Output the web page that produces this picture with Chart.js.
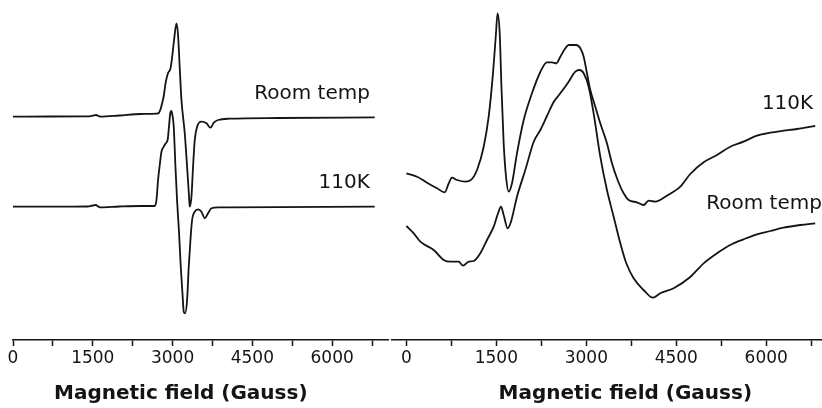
<!DOCTYPE html>
<html>
<head>
<meta charset="utf-8">
<title>EPR spectra</title>
<script src="https://cdn.jsdelivr.net/npm/chart.js"></script>
<style>
  html, body { margin: 0; padding: 0; background: #fff; }
  #wrap { position: relative; width: 822px; height: 408px; overflow: hidden; }
  #wrap canvas { position: absolute; top: 0; }
  #leftChart { left: 0; }
  #rightChart { left: 390px; }
</style>
</head>
<body>
<div id="wrap">
  <canvas id="leftChart" width="390" height="408"></canvas>
  <canvas id="rightChart" width="432" height="408"></canvas>
</div>
<script>
// Field values in Gauss, intensities in arbitrary units
const LEFT_FIELD_RT = [0, 700, 1400, 1500, 1560, 1640, 2000, 2400, 2700, 2740, 2775, 2800, 2834, 2872, 2915, 2960, 2990, 3028, 3073, 3103, 3135, 3167, 3229, 3273, 3310, 3323, 3355, 3385, 3417, 3461, 3543, 3637, 3713, 3775, 3856, 4076, 5000, 6800];
const LEFT_RT = [223.3, 223.5, 223.6, 224.3, 225, 223.4, 224.5, 226, 226.3, 227, 231, 236, 244, 258, 267, 271.5, 282, 300, 316.7, 305, 271.7, 240, 206.7, 173.3, 143.3, 133.3, 143.3, 173.3, 200, 213.3, 218.3, 216.7, 212.3, 217.3, 220, 221.3, 222, 222.7];

const LEFT_FIELD_110K = [0, 700, 1400, 1500, 1550, 1640, 2000, 2400, 2665, 2697, 2727, 2759, 2791, 2834, 2872, 2910, 2935, 2955, 2978, 3000, 3022, 3054, 3084, 3122, 3154, 3186, 3210, 3235, 3273, 3304, 3336, 3367, 3417, 3479, 3543, 3605, 3667, 3731, 3856, 4076, 6800];
const LEFT_110K = [133.3, 133.3, 133.5, 134.5, 135, 132.7, 133.5, 134, 134, 140, 160, 175, 188.3, 193.3, 196.7, 201, 215, 226, 229, 224, 213.3, 173.3, 140, 107, 73.3, 46.7, 28.3, 26.7, 40, 73.3, 100, 120, 128.3, 130.7, 128.3, 121.7, 126.7, 131.7, 132.7, 132.7, 133.3];

const RIGHT_FIELD_110K = [0, 178, 344, 511, 639, 706, 761, 844, 983, 1094, 1178, 1289, 1372, 1444, 1494, 1520, 1556, 1583, 1622, 1667, 1706, 1761, 1844, 1956, 2094, 2233, 2344, 2428, 2500, 2567, 2650, 2706, 2833, 2900, 2956, 3011, 3067, 3150, 3233, 3344, 3428, 3522, 3622, 3706, 3844, 3956, 4039, 4150, 4344, 4567, 4733, 4956, 5178, 5400, 5622, 5844, 6067, 6289, 6511, 6678, 6817];
const RIGHT_110K = [166.7, 163.3, 157.3, 151.7, 147.7, 156.7, 162.3, 160, 158.3, 161, 170, 193.3, 223.3, 266.7, 306.7, 326.7, 306.7, 256.7, 196.7, 160, 148.3, 156.7, 186.7, 220, 246.7, 268, 277.7, 277.7, 276.7, 283.3, 291.7, 295, 295, 291.7, 283.3, 266.7, 250, 233.3, 216.7, 196.7, 176.7, 160, 146.7, 140, 137.7, 135, 139.3, 138.3, 144.3, 153.3, 166, 177.7, 185, 193.3, 198.3, 204.3, 207.3, 209.3, 211, 212.7, 214];

const RIGHT_FIELD_RT = [0, 122, 233, 456, 622, 733, 872, 944, 1039, 1122, 1233, 1344, 1456, 1528, 1578, 1622, 1689, 1744, 1844, 1983, 2122, 2233, 2344, 2456, 2567, 2706, 2817, 2889, 2956, 3039, 3122, 3233, 3344, 3456, 3567, 3667, 3789, 3956, 4111, 4233, 4456, 4733, 4956, 5178, 5400, 5622, 5844, 6067, 6289, 6567, 6817];
const RIGHT_RT = [114, 106.7, 98.3, 90, 80, 78.3, 78.3, 74.3, 78.3, 79, 86.7, 100, 113.3, 126.7, 133.3, 125, 111.7, 118.3, 143.3, 170, 198, 210, 224, 238, 246.7, 258.3, 268.3, 270, 266.7, 253.3, 226.7, 183.3, 150, 123.3, 96.7, 76.7, 61.7, 50, 42.3, 46.7, 51.7, 63, 76.7, 86.7, 95, 100.7, 105.7, 109, 112.3, 115, 116.7];

// Axis ticks (Gauss); labels shown every 1500
const TICK_VALUES = [0, 750, 1500, 2250, 3000, 3750, 4500, 5250, 6000, 6750];
const AXIS_TITLE = 'Magnetic field (Gauss)';

const INK = '#141414';

function toPoints(xs, ys) {
    return xs.map((x, i) => ({ x: x, y: ys[i] }));
}

// Draws the curve names and the axis title
const textMarks = {
    id: 'textMarks',
    afterDraw(chart, args, opts) {
        const { ctx, scales: { x, y } } = chart;
        ctx.save();
        ctx.fillStyle = INK;
        ctx.textBaseline = 'middle';
        for (const l of opts.labels) {
            ctx.font = l.font;
            ctx.textAlign = l.align;
            const py = l.fromBottom !== undefined ? x.bottom - l.fromBottom : y.getPixelForValue(l.y);
            ctx.fillText(l.text, x.getPixelForValue(l.x), py);
        }
        ctx.restore();
    }
};

function makeChart(canvasId, opts) {
    const ctx = document.getElementById(canvasId).getContext('2d');
    return new Chart(ctx, {
        type: 'line',
        data: {
            datasets: opts.series.map(s => ({
                label: s.label,
                data: toPoints(s.xs, s.ys),
                borderColor: INK,
                borderWidth: 1.8,
                pointRadius: 0,
                fill: false,
                cubicInterpolationMode: 'monotone'
            }))
        },
        options: {
            responsive: false,
            animation: false,
            devicePixelRatio: 1,
            layout: { padding: opts.padding },
            events: [],
            plugins: {
                legend: { display: false },
                tooltip: { enabled: false },
                textMarks: { labels: opts.labels }
            },
            scales: {
                x: {
                    type: 'linear',
                    position: 'bottom',
                    min: opts.min,
                    max: opts.max,
                    border: { display: true, color: INK, width: 1.5 },
                    grid: {
                        drawOnChartArea: false,
                        drawTicks: true,
                        tickLength: 6,
                        tickColor: INK,
                        tickWidth: 1.5
                    },
                    ticks: {
                        autoSkip: false,
                        maxRotation: 0,
                        padding: 2,
                        color: INK,
                        font: { family: 'DejaVu Sans', size: 17 },
                        callback: (v) => (v % 1500 === 0 ? String(v) : '')
                    },
                    afterBuildTicks: (scale) => {
                        scale.ticks = TICK_VALUES.map(v => ({ value: v }));
                    },
                    afterFit: (scale) => { scale.height = 68; }
                },
                y: {
                    display: false,
                    min: 0,
                    max: 340
                }
            }
        },
        plugins: [textMarks]
    });
}

const titleFont = 'bold 20px "DejaVu Sans"';
const labelFont = '20px "DejaVu Sans"';

makeChart('leftChart', {
    min: 0,
    max: 7050,
    padding: { left: 13, right: 2, top: 0, bottom: 0 },
    series: [
        { label: 'Room temp', xs: LEFT_FIELD_RT, ys: LEFT_RT },
        { label: '110K', xs: LEFT_FIELD_110K, ys: LEFT_110K }
    ],
    labels: [
        { text: 'Room temp', x: 6709, y: 246, align: 'right', font: labelFont },
        { text: '110K', x: 6709, y: 157, align: 'right', font: labelFont },
        { text: AXIS_TITLE, x: 3154, fromBottom: 14, align: 'center', font: titleFont }
    ]
});

makeChart('rightChart', {
    min: -240,
    max: 6930,
    padding: { left: 2, right: 0, top: 0, bottom: 0 },
    series: [
        { label: '110K', xs: RIGHT_FIELD_110K, ys: RIGHT_110K },
        { label: 'Room temp', xs: RIGHT_FIELD_RT, ys: RIGHT_RT }
    ],
    labels: [
        { text: '110K', x: 6783, y: 236, align: 'right', font: labelFont },
        { text: 'Room temp', x: 6928, y: 136, align: 'right', font: labelFont },
        { text: AXIS_TITLE, x: 3650, fromBottom: 14, align: 'center', font: titleFont }
    ]
});
</script>
</body>
</html>
